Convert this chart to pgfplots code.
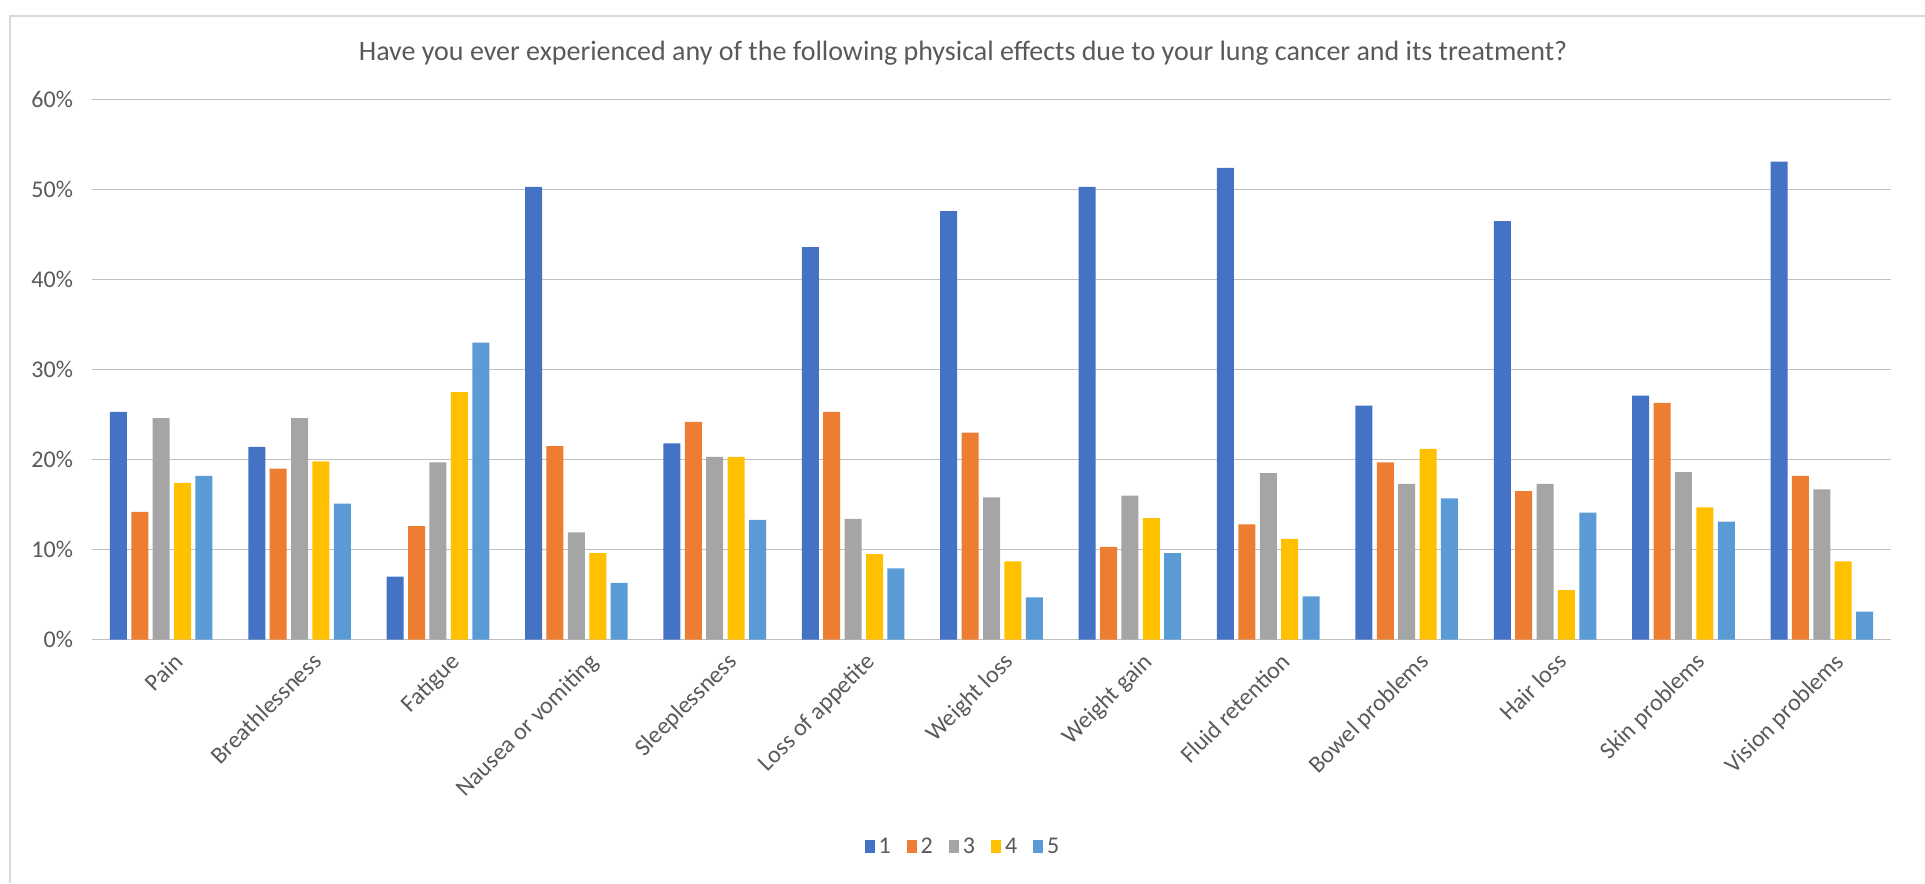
\documentclass[border=0pt]{standalone}
\usepackage{fontspec}
\setmainfont{Carlito}
\usepackage{pgfplots}
\pgfplotsset{compat=1.18}
\definecolor{cA}{HTML}{4472C4}
\definecolor{cB}{HTML}{ED7D31}
\definecolor{cC}{HTML}{A5A5A5}
\definecolor{cD}{HTML}{FFC000}
\definecolor{cE}{HTML}{5B9BD5}
\definecolor{txt}{HTML}{595959}
\definecolor{grid}{HTML}{D9D9D9}
\begin{document}
\begin{tikzpicture}
\useasboundingbox (0,0) rectangle (962.5pt,441.5pt);
\draw[grid, line width=0.8pt] (5pt,0) -- (5pt,433.5pt) -- (970pt,433.5pt);
\node[txt, font=\fontsize{14}{16}\selectfont] at (481.5pt,415pt) {Have you ever experienced any of the following physical effects due to your lung cancer and its treatment?};
\begin{axis}[
  at={(46pt,121.7pt)}, anchor=south west,
  scale only axis, width=899.5pt, height=270pt,
  ybar=2.2pt, bar width=8.5pt,
  xmin=-0.5, xmax=12.5, ymin=0, ymax=60,
  xtick={0,...,12},
  xticklabels={Pain,Breathlessness,Fatigue,Nausea or vomiting,Sleeplessness,Loss of appetite,Weight loss,Weight gain,Fluid retention,Bowel problems,Hair loss,Skin problems,Vision problems},
  xticklabel style={rotate=45, anchor=north east, font=\fontsize{12}{14}\selectfont, text=txt, inner sep=1pt, yshift=-4pt, xshift=4pt},
  ytick={0,10,20,30,40,50,60},
  yticklabels={0\%,10\%,20\%,30\%,40\%,50\%,60\%},
  yticklabel style={font=\fontsize{12}{14}\selectfont, text=txt, xshift=-6pt},
  xtick style={draw=none}, ytick style={draw=none},
  xmajorgrids=false, ymajorgrids=true, grid style={grid, line width=0.8pt},
  axis line style={draw=none},
  legend style={at={(0.4847,-0.384)}, anchor=center, draw=none, legend columns=-1,
    font=\fontsize{12}{14}\selectfont, text=txt,
    /tikz/every even column/.append style={column sep=6pt}},
  legend image code/.code={\fill[#1] (0pt,-3pt) rectangle (5pt,3.5pt);},
]
\addplot[fill=cA, draw=none] coordinates {(0,25.3)(1,21.4)(2,7.0)(3,50.3)(4,21.8)(5,43.6)(6,47.6)(7,50.3)(8,52.4)(9,26.0)(10,46.5)(11,27.1)(12,53.1)};
\addplot[fill=cB, draw=none] coordinates {(0,14.2)(1,19.0)(2,12.6)(3,21.5)(4,24.2)(5,25.3)(6,23.0)(7,10.3)(8,12.8)(9,19.7)(10,16.5)(11,26.3)(12,18.2)};
\addplot[fill=cC, draw=none] coordinates {(0,24.6)(1,24.6)(2,19.7)(3,11.9)(4,20.3)(5,13.4)(6,15.8)(7,16.0)(8,18.5)(9,17.3)(10,17.3)(11,18.6)(12,16.7)};
\addplot[fill=cD, draw=none] coordinates {(0,17.4)(1,19.8)(2,27.5)(3,9.6)(4,20.3)(5,9.5)(6,8.7)(7,13.5)(8,11.2)(9,21.2)(10,5.5)(11,14.7)(12,8.7)};
\addplot[fill=cE, draw=none] coordinates {(0,18.2)(1,15.1)(2,33.0)(3,6.3)(4,13.3)(5,7.9)(6,4.7)(7,9.6)(8,4.8)(9,15.7)(10,14.1)(11,13.1)(12,3.1)};
\legend{1,2,3,4,5}
\end{axis}
\end{tikzpicture}
\end{document}
